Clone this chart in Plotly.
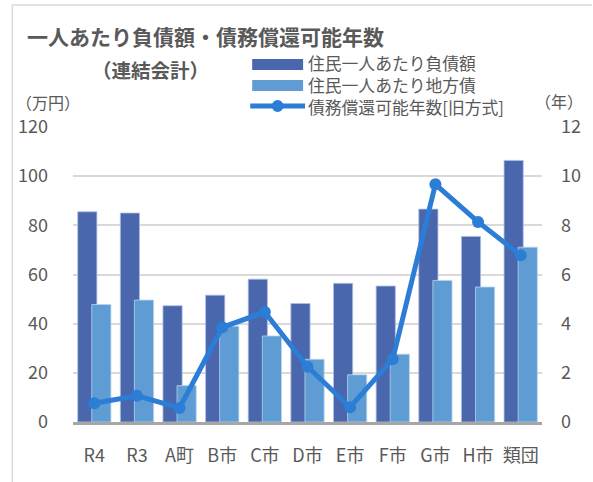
import plotly.graph_objects as go

# ---- data ----
categories = ["R4", "R3", "A町", "B市", "C市", "D市", "E市", "F市", "G市", "H市", "類団"]
debt_per_capita = [85.5, 85.0, 47.3, 51.6, 58.1, 48.2, 56.4, 55.3, 86.6, 75.5, 106.4]
bonds_per_capita = [47.8, 49.6, 14.8, 39.0, 35.0, 25.5, 19.2, 27.6, 57.6, 54.9, 71.1]
repay_years = [0.76, 1.07, 0.57, 3.85, 4.47, 2.25, 0.60, 2.56, 9.67, 8.14, 6.78]

left_ticks = [0, 20, 40, 60, 80, 100, 120]
right_ticks = [0, 2, 4, 6, 8, 10, 12]

series_names = ["住民一人あたり負債額", "住民一人あたり地方債", "債務償還可能年数[旧方式]"]

# ---- styling ----
W, H = 593, 482
ML, MR, MT, MB = 73, 41, 127, 60
PW, PH = W - ML - MR, H - MT - MB
DARK = "#4A66AC"
LIGHT = "#5E9CD3"
LINE = "#2B7DD6"
TXT = "#595959"
GRID = "#D9D9D9"
FONT = "Noto Sans CJK JP"


def px(x):
    """pixel x -> paper x"""
    return (x - ML) / PW


def py(y):
    """pixel y -> paper y"""
    return (H - MB - y) / PH


fig = go.Figure()

fig.add_trace(go.Bar(
    x=categories, y=debt_per_capita, name=series_names[0],
    marker=dict(color=DARK, line=dict(color="#AFC0E4", width=0.8)),
    width=0.45, offset=-0.39, showlegend=False,
))
fig.add_trace(go.Bar(
    x=categories, y=bonds_per_capita, name=series_names[1],
    marker=dict(color=LIGHT, line=dict(color="#B8D3EE", width=0.8)),
    width=0.45, offset=-0.06, showlegend=False,
))
fig.add_trace(go.Scatter(
    x=categories, y=repay_years, name=series_names[2], yaxis="y2",
    mode="lines+markers",
    line=dict(color=LINE, width=5),
    marker=dict(color=LINE, size=12),
    showlegend=False,
))

shapes = [
    # chart frame (left and top edges)
    dict(type="line", xref="paper", yref="paper",
         x0=px(11), x1=px(11), y0=py(H + 5), y1=py(5),
         line=dict(color=GRID, width=1.5), layer="above"),
    dict(type="line", xref="paper", yref="paper",
         x0=px(11), x1=px(W + 10), y0=py(5), y1=py(5),
         line=dict(color=GRID, width=1.5), layer="above"),
    # legend swatches
    dict(type="rect", xref="paper", yref="paper",
         x0=px(256), x1=px(308), y0=py(70), y1=py(59),
         fillcolor=DARK, line=dict(width=0)),
    dict(type="rect", xref="paper", yref="paper",
         x0=px(256), x1=px(308), y0=py(91), y1=py(80),
         fillcolor=LIGHT, line=dict(width=0)),
    dict(type="line", xref="paper", yref="paper",
         x0=px(254), x1=px(310), y0=py(106), y1=py(106),
         line=dict(color=LINE, width=5)),
    dict(type="circle", xref="paper", yref="paper",
         x0=px(276), x1=px(288), y0=py(112), y1=py(100),
         fillcolor=LINE, line=dict(width=0)),
]


def label(text, x, y, size, anchor="left", bold=False):
    return dict(
        text=f"<b>{text}</b>" if bold else text,
        xref="paper", yref="paper", x=px(x), y=py(y),
        xanchor=anchor, yanchor="middle", showarrow=False,
        align="left", borderpad=0,
        font=dict(family=FONT, size=size, color=TXT),
    )


annotations = [
    label("一人あたり負債額・債務償還可能年数", 25, 36, 21, bold=True),
    label("（連結会計）", 152, 70, 19.5, anchor="center", bold=True),
    label("（万円）", 47, 102, 16, anchor="center"),
    label("（年）", 569, 101, 16, anchor="center"),
    # legend entries, one line per series
    label("<br>".join(series_names), 312, 85, 16.8),
]

fig.update_layout(
    width=W, height=H,
    margin=dict(l=ML, r=MR, t=MT, b=MB, pad=0),
    paper_bgcolor="white", plot_bgcolor="white",
    barmode="overlay",
    font=dict(family=FONT, color=TXT, size=18),
    xaxis=dict(
        type="category", categoryorder="array", categoryarray=categories,
        showline=True, linecolor="#A6A6A6", linewidth=2.5,
        showgrid=False, ticks="", ticklabelstandoff=16,
        tickfont=dict(family=FONT, size=18, color=TXT),
        range=[-0.5, len(categories) - 0.5], fixedrange=True,
    ),
    yaxis=dict(
        range=[0, 120], tickvals=left_ticks, showgrid=True,
        gridcolor=GRID, gridwidth=1.5, zeroline=False, showline=False,
        ticks="", ticklabelstandoff=24,
        tickfont=dict(family=FONT, size=18, color=TXT),
    ),
    yaxis2=dict(
        range=[0, 12], tickvals=right_ticks, overlaying="y", side="right",
        showgrid=False, zeroline=False, showline=False, ticks="",
        ticklabelstandoff=18,
        tickfont=dict(family=FONT, size=18, color=TXT),
    ),
    shapes=shapes,
    annotations=annotations,
)

fig.write_html("out.html")
